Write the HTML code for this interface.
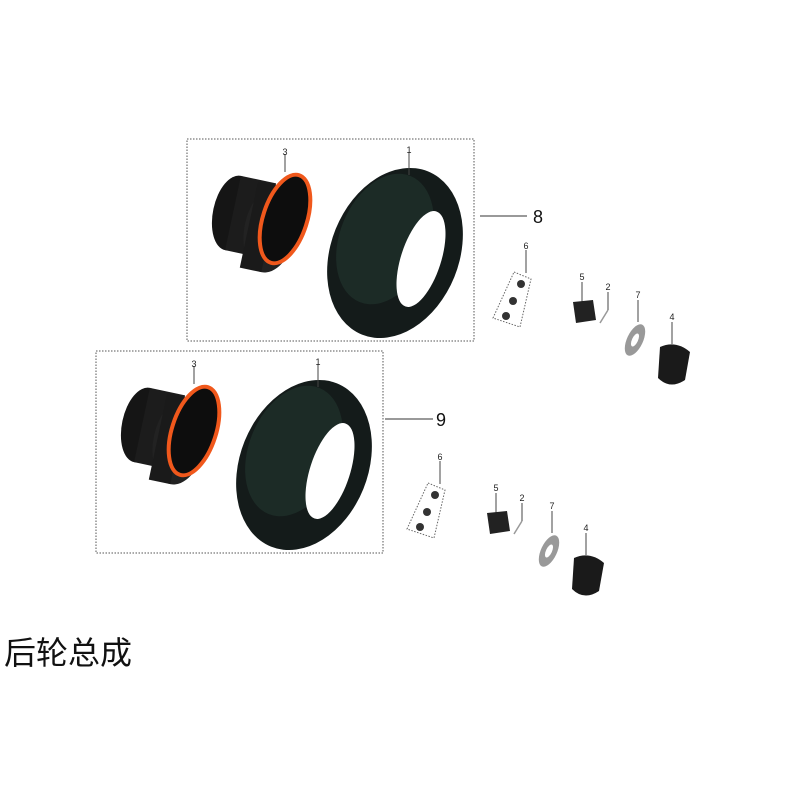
<!DOCTYPE html>
<html><head><meta charset="utf-8"><style>
html,body{margin:0;padding:0;background:#fff;}
.t{position:absolute;left:4px;top:628px;font:32px "Liberation Sans","Noto Sans CJK SC",sans-serif;color:#111;}
</style></head><body>
<div style="position:relative;width:800px;height:800px;overflow:hidden">
<svg width="800" height="800" viewBox="0 0 800 800" xmlns="http://www.w3.org/2000/svg" style="position:absolute;left:0;top:0">
<defs>
<g id="set">
  <rect x="0" y="0" width="287" height="202" fill="none" stroke="#555" stroke-width="1" stroke-dasharray="1.5,1.5"/>
  <!-- rim -->
  <g transform="translate(46,74) rotate(12)">
    <ellipse cx="0" cy="0" rx="20" ry="38" fill="#151515"/>
    <rect x="0" y="-38" width="36" height="76" fill="#1c1c1c"/>
    <ellipse cx="40" cy="8" rx="26" ry="44" fill="#222"/>
    <rect x="18" y="-36" width="22" height="88" fill="#1a1a1a"/>
  </g>
  <ellipse cx="98" cy="80" rx="22" ry="46" transform="rotate(18 98 80)" fill="#0d0d0d" stroke="#f0581c" stroke-width="4"/>
  <line x1="98" y1="15" x2="98" y2="33" stroke="#444"/>
  <text x="98" y="16" font-family="Liberation Sans" font-size="9" text-anchor="middle" fill="#222">3</text>
  <!-- tire -->
  <ellipse cx="208" cy="114" rx="64" ry="88" transform="rotate(22 208 114)" fill="#141b1a"/>
  <ellipse cx="198" cy="100" rx="45" ry="68" transform="rotate(22 198 100)" fill="#2a4a40" opacity="0.35"/>
  <ellipse cx="234" cy="120" rx="20" ry="50" transform="rotate(18 234 120)" fill="#fff"/>
  <line x1="222" y1="13" x2="222" y2="36" stroke="#444"/>
  <text x="222" y="14" font-family="Liberation Sans" font-size="9" text-anchor="middle" fill="#222">1</text>
</g>
<g id="parts">
  <polygon points="34,32 51,39 40,87 13,78" fill="none" stroke="#666" stroke-dasharray="1.5,1.5"/>
  <line x1="46" y1="10" x2="46" y2="33" stroke="#444"/>
  <text x="46" y="9" font-family="Liberation Sans" font-size="9" text-anchor="middle" fill="#222">6</text>
  <circle cx="41" cy="44" r="4" fill="#333"/><circle cx="33" cy="61" r="4" fill="#333"/><circle cx="26" cy="76" r="4" fill="#333"/>
  <line x1="102" y1="42" x2="102" y2="62" stroke="#444"/>
  <text x="102" y="40" font-family="Liberation Sans" font-size="9" text-anchor="middle" fill="#222">5</text>
  <path d="M93,62 L113,60 L116,80 L96,83 Z" fill="#222"/>
  <line x1="128" y1="52" x2="128" y2="70" stroke="#444"/>
  <line x1="128" y1="70" x2="120" y2="83" stroke="#999" stroke-width="1.5"/>
  <text x="128" y="50" font-family="Liberation Sans" font-size="9" text-anchor="middle" fill="#222">2</text>
  <line x1="158" y1="60" x2="158" y2="82" stroke="#444"/>
  <text x="158" y="58" font-family="Liberation Sans" font-size="9" text-anchor="middle" fill="#222">7</text>
  <ellipse cx="155" cy="100" rx="8" ry="17" transform="rotate(25 155 100)" fill="#999"/>
  <ellipse cx="155" cy="100" rx="3" ry="7" transform="rotate(25 155 100)" fill="#fff"/>
  <line x1="192" y1="82" x2="192" y2="104" stroke="#444"/>
  <text x="192" y="80" font-family="Liberation Sans" font-size="9" text-anchor="middle" fill="#222">4</text>
  <path d="M180,107 Q196,100 210,112 L205,140 Q190,150 178,138 Z" fill="#1a1a1a"/>
</g>
</defs>
<use href="#set" x="187" y="139"/>
<use href="#set" x="96" y="351"/>
<use href="#parts" x="480" y="240"/>
<use href="#parts" x="394" y="451"/>
<line x1="480" y1="216" x2="527" y2="216" stroke="#333"/>
<text x="533" y="223" font-family="Liberation Sans" font-size="18" fill="#111">8</text>
<line x1="385" y1="419" x2="433" y2="419" stroke="#333"/>
<text x="436" y="426" font-family="Liberation Sans" font-size="18" fill="#111">9</text>
</svg>
<div class="t">后轮总成</div>
</div>
</body></html>
